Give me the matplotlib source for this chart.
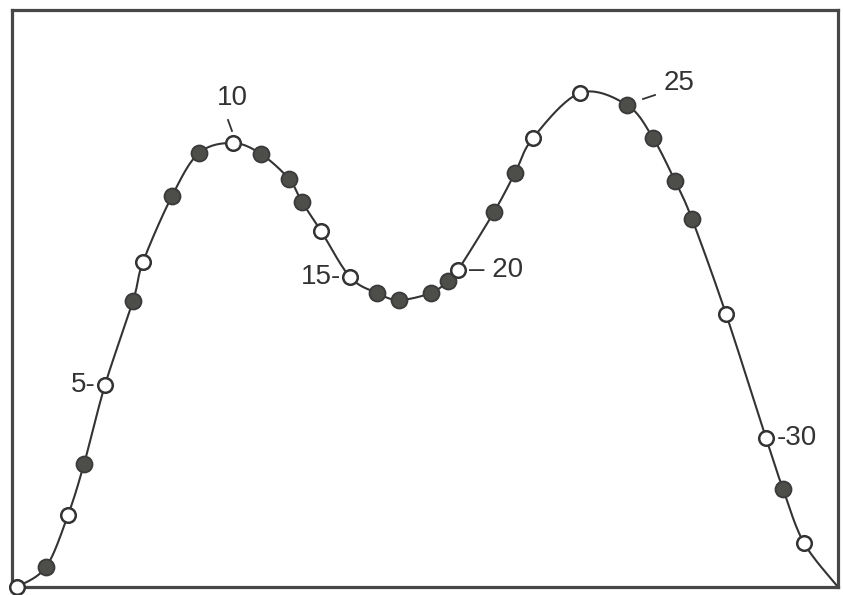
import numpy as np
import matplotlib
matplotlib.use('Agg')
import matplotlib.pyplot as plt

# sample number, position along the trace and height of the response
sample = list(range(1, 33))
pos = [5, 34, 56, 72, 93, 121, 131, 160, 187, 221, 249, 277, 290, 309, 338,
       365, 387, 419, 436, 446, 482, 503, 521, 568, 615, 641, 663, 680, 714,
       754, 771, 792]
height = [0, 20, 72, 123, 202, 286, 325, 391, 434, 444, 433, 408, 385, 356,
          310, 294, 287, 294, 306, 317, 375, 414, 449, 494, 482, 449, 406,
          368, 273, 149, 98, 44]
# filled = 1, open = 0
filled = [0, 1, 0, 1, 0, 1, 0, 1, 1, 0, 1, 1, 1, 0, 0, 1, 1, 1, 1, 0, 1, 1,
          0, 0, 1, 1, 1, 1, 0, 0, 1, 0]
# trace runs on into the corner after the last sample
tail_pos = [826]
tail_height = [0]

ink = '#333333'
dot = '#4d4d4a'


def catmull_rom(xs, ys, n=24):
    p = np.column_stack([xs, ys]).astype(float)
    p = np.vstack([p[0], p, p[-1]])
    out = []
    t = np.linspace(0, 1, n)[:, None]
    for i in range(1, len(p) - 2):
        p0, p1, p2, p3 = p[i - 1], p[i], p[i + 1], p[i + 2]
        seg = 0.5 * (2 * p1 + (-p0 + p2) * t
                     + (2 * p0 - 5 * p1 + 4 * p2 - p3) * t ** 2
                     + (-p0 + 3 * p1 - 3 * p2 + p3) * t ** 3)
        out.append(seg if i == 1 else seg[1:])
    out = np.vstack(out)
    return out[:, 0], out[:, 1]


fig = plt.figure(figsize=(8.43, 5.95), dpi=100)
ax = fig.add_axes([12 / 843, 8 / 595, 826 / 843, 577 / 595])
ax.set_xlim(0, 826)
ax.set_ylim(0, 577)
ax.set_xticks([])
ax.set_yticks([])
for s in ax.spines.values():
    s.set_linewidth(2.3)
    s.set_color('#474747')

cx, cy = catmull_rom(pos + tail_pos, height + tail_height)
ax.plot(cx, cy, color=ink, lw=1.5, zorder=2, clip_on=False)

for x, y, f in zip(pos, height, filled):
    if f:
        ax.plot(x, y, 'o', ms=11.5, mfc=dot, mec='#3a3a3a', mew=1.3,
                zorder=3, clip_on=False)
    else:
        ax.plot(x, y, 'o', ms=10.5, mfc='white', mec=ink, mew=1.8,
                zorder=3, clip_on=False)

lab = dict(fontsize=20, color=ink, family='Liberation Sans', va='center')
px = dict(zip(sample, pos))
py = dict(zip(sample, height))
ax.text(px[5] - 9, py[5], '5-', ha='right', **lab)
ax.text(px[15] - 9, py[15], '15-', ha='right', **lab)
ax.text(px[20] + 11, py[20], '\u2013 20', ha='left', **lab)
ax.text(px[30] + 11, py[30], '-30', ha='left', **lab)

# "10" sits above its sample with a short slanted leader
ax.text(px[10] - 1, py[10] + 45, '10', ha='center', **lab)
ax.plot([px[10] - 5, px[10] - 1], [py[10] + 23, py[10] + 12], color=ink, lw=1.3)

# "25" up and to the right, joined by a short dash
ax.text(px[25] + 52, py[25] + 22, '25', ha='center', **lab)
ax.plot([px[25] + 16, px[25] + 28], [py[25] + 6, py[25] + 10], color=ink, lw=1.3)

fig.savefig('out.png', dpi=100)
